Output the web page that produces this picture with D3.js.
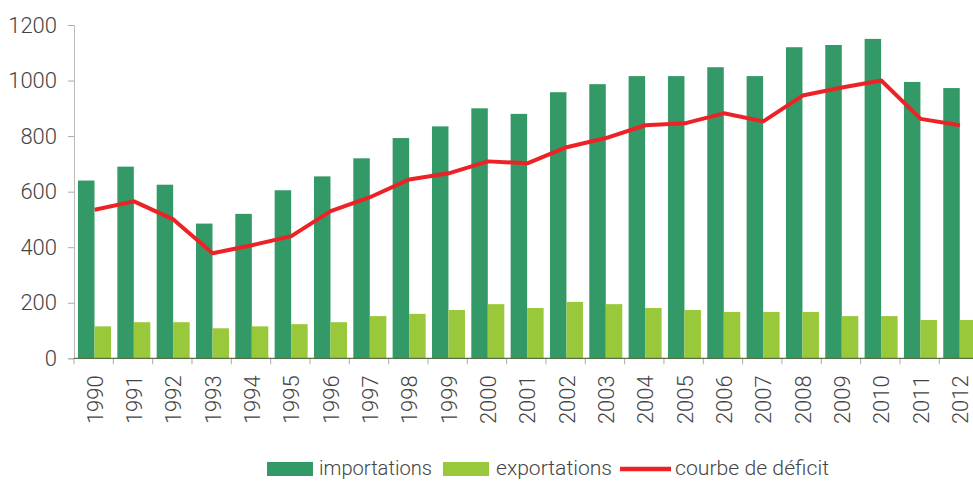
<!DOCTYPE html>
<html>
<head>
<meta charset="utf-8">
<script src="https://cdn.jsdelivr.net/npm/d3@7"></script>
<style>
  body { margin: 0; background: #fff; }
  svg { display: block; font-family: Roboto, "Open Sans", sans-serif; font-weight: 300; }
</style>
</head>
<body>
<div id="wrapper"></div>
<script>
// 1. Data
const years = ["1990","1991","1992","1993","1994","1995","1996","1997","1998","1999","2000",
  "2001","2002","2003","2004","2005","2006","2007","2008","2009","2010","2011","2012"]
const importations = [640, 690, 625, 485, 520, 605, 655, 720, 793, 835, 900,
  880, 958, 987, 1016, 1016, 1048, 1016, 1120, 1128, 1150, 995, 973]
const exportations = [115, 130, 130, 108, 115, 123, 130, 152, 160, 174, 195,
  181, 203, 195, 181, 174, 167, 167, 167, 152, 152, 138, 138]
const deficit = [535, 565, 500, 378, 407, 440, 530, 580, 644, 666, 709,
  702, 760, 793, 839, 846, 882, 853, 946, 975, 1000, 862, 839]
const yTicks = [0, 200, 400, 600, 800, 1000, 1200]
const legendItems = ["importations", "exportations", "courbe de déficit"]

const colors = { imp: "#339966", exp: "#99c93b", line: "#ec2227" }

// 2. Dimensions
const dimensions = {
  width: 973,
  height: 481,
  margin: { top: 25, left: 74 },
  boundedWidth: 904.6,
  boundedHeight: 333.3,
}

// 3. Canvas
const wrapper = d3.select("#wrapper")
  .append("svg")
  .attr("width", dimensions.width)
  .attr("height", dimensions.height)

const bounds = wrapper.append("g")
  .attr("transform", `translate(${dimensions.margin.left},${dimensions.margin.top})`)

// 4. Scales
const xScale = d3.scaleBand()
  .domain(years)
  .range([0, dimensions.boundedWidth])

const xInner = d3.scaleBand()
  .domain(["imp", "exp"])
  .range([4, 37])

const yScale = d3.scaleLinear()
  .domain([0, 1200])
  .range([dimensions.boundedHeight, 0])

// 5. Draw data
bounds.selectAll(".imp")
  .data(years)
  .join("rect")
    .attr("class", "imp")
    .attr("x", (d, i) => xScale(d) + xInner("imp"))
    .attr("y", (d, i) => yScale(importations[i]))
    .attr("width", xInner.bandwidth())
    .attr("height", (d, i) => yScale(0) - yScale(importations[i]))
    .attr("fill", colors.imp)

bounds.selectAll(".exp")
  .data(years)
  .join("rect")
    .attr("class", "exp")
    .attr("x", (d, i) => xScale(d) + xInner("exp"))
    .attr("y", (d, i) => yScale(exportations[i]))
    .attr("width", xInner.bandwidth())
    .attr("height", (d, i) => yScale(0) - yScale(exportations[i]))
    .attr("fill", colors.exp)

const lineGenerator = d3.line()
  .x((d, i) => xScale(years[i]) + xScale.bandwidth() / 2 + 1)
  .y(d => yScale(d))

bounds.append("path")
  .datum(deficit)
  .attr("d", lineGenerator)
  .attr("fill", "none")
  .attr("stroke", colors.line)
  .attr("stroke-width", 4)
  .attr("stroke-linejoin", "round")

// 6. Peripherals
const yAxis = bounds.append("g")
  .call(d3.axisLeft(yScale).tickValues(yTicks).tickFormat(d3.format("d")).tickSize(6).tickPadding(11))
yAxis.select(".domain").attr("stroke", "#bbb")
yAxis.selectAll(".tick line").attr("stroke", "#aaa")
yAxis.selectAll(".tick text")
  .attr("fill", "#444")
  .style("font-size", "22px")
  .style("font-family", "Roboto")
  .style("font-weight", 300)

const xAxis = bounds.append("g")
  .attr("transform", `translate(0,${dimensions.boundedHeight})`)
xAxis.selectAll(".tick-line")
  .data(years.concat(["end"]))
  .join("line")
    .attr("x1", (d, i) => i * xScale.step())
    .attr("x2", (d, i) => i * xScale.step())
    .attr("y1", 0)
    .attr("y2", 6)
    .attr("stroke", "#aaa")
xAxis.append("line")
  .attr("x1", 0)
  .attr("x2", dimensions.boundedWidth)
  .attr("stroke", "#5b7047")
  .attr("stroke-width", 1.2)
xAxis.selectAll(".year")
  .data(years)
  .join("text")
    .attr("class", "year")
    .attr("transform", d => `translate(${xScale(d) + 21},17) rotate(-90)`)
    .attr("text-anchor", "end")
    .attr("dy", "0.35em")
    .attr("fill", "#444")
    .style("font-size", "22px")
    .text(d => d)

// legend
const legend = wrapper.append("g")
const legendX = [267, 443, 620]
const legendTextX = [319, 496, 675]
const legendTextW = [113, 116, 154]

legend.append("rect")
  .attr("x", legendX[0]).attr("y", 462).attr("width", 46).attr("height", 14)
  .attr("fill", colors.imp)
legend.append("rect")
  .attr("x", legendX[1]).attr("y", 462).attr("width", 46).attr("height", 14)
  .attr("fill", colors.exp)
legend.append("line")
  .attr("x1", legendX[2]).attr("x2", legendX[2] + 51)
  .attr("y1", 469).attr("y2", 469)
  .attr("stroke", colors.line).attr("stroke-width", 4.5)

legend.selectAll("text")
  .data(legendItems)
  .join("text")
    .attr("x", (d, i) => legendTextX[i])
    .attr("y", 475)
    .attr("fill", "#444")
    .attr("textLength", (d, i) => legendTextW[i])
    .attr("lengthAdjust", "spacingAndGlyphs")
    .style("font-size", "21px")
    .text(d => d)
</script>
</body>
</html>
